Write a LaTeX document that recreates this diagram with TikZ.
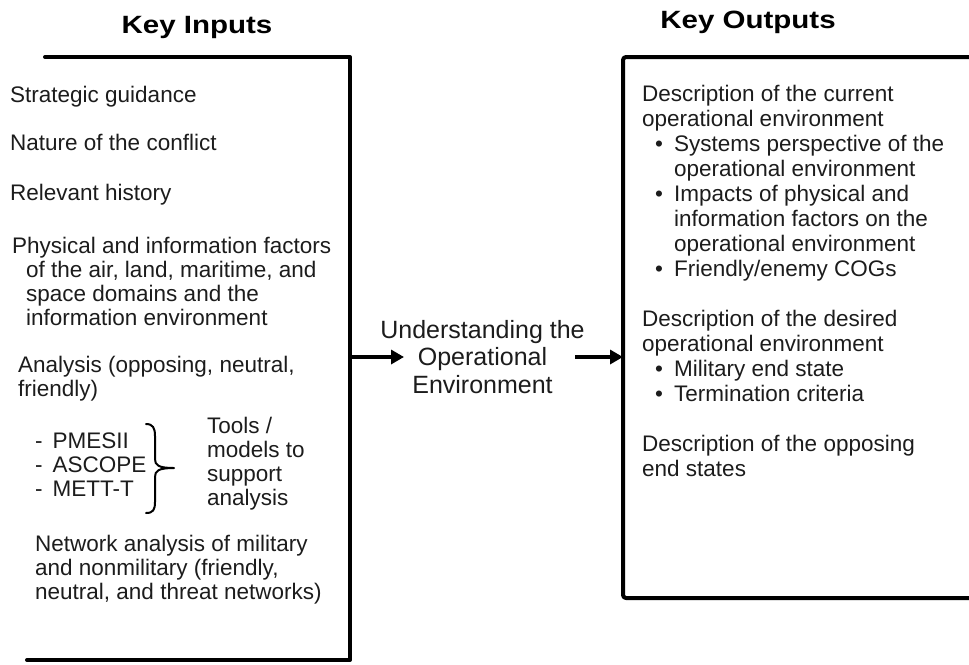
\documentclass[tikz,border=0pt]{standalone}
\usepackage{fontspec}
\setmainfont{Liberation Sans}
\usetikzlibrary{arrows.meta}
\newcommand{\mlines}[1]{\begin{tabular}[t]{@{}l@{}}#1\end{tabular}}
\definecolor{ink}{HTML}{1C1C1C}
\begin{document}
\begin{tikzpicture}[x=1pt,y=-1pt,
  boxline/.style={line width=4pt, line join=round, line cap=round},
  bodytxt/.style={font=\fontsize{22.5}{24}\selectfont, text=ink, inner sep=0pt, anchor=base west},
  rtxt/.style={font=\fontsize{22.5}{25}\selectfont, text=ink, inner sep=0pt, anchor=base west},
  titletxt/.style={font=\bfseries\fontsize{25}{28}\selectfont, inner sep=0pt, anchor=base},
  midtxt/.style={font=\fontsize{25}{27.5}\selectfont, text=ink, inner sep=0pt, anchor=base},
  arr/.style={line width=3.5pt, -{Triangle[length=13pt,width=14pt]}},
  bracestyle/.style={line width=2pt, line cap=round, line join=round}]
\useasboundingbox (0,0) rectangle (969,664);

% titles
\node[titletxt] (tin) at (197,33) {\scalebox{1.18}[1]{Key Inputs}};
\node[titletxt] (tout) at (748,28) {\scalebox{1.18}[1]{Key Outputs}};

% left box (open on the left)
\draw[boxline] (27,660) -- (350,660) -- (350,57) -- (45,57);
% right box (open on the right)
\draw[boxline, rounded corners=3pt] (975,57) -- (623,57) -- (623,598) -- (975,598);

% left column
\node[bodytxt] (l1) at (10,102) {Strategic guidance};
\node[bodytxt] (l2) at (10,150) {Nature of the conflict};
\node[bodytxt] (l3) at (10,200) {Relevant history};
\node[bodytxt] (l4) at (12,253) {\mlines{Physical and information factors\\
  \hspace*{14pt}of the air, land, maritime, and\\
  \hspace*{14pt}space domains and the\\
  \hspace*{14pt}information environment}};
\node[bodytxt] (l5) at (18,372) {\mlines{Analysis (opposing, neutral,\\friendly)}};
\node[bodytxt] (l6) at (35,448) {\mlines{-\hspace{10pt}PMESII\\-\hspace{10pt}ASCOPE\\-\hspace{10pt}METT-T}};
\node[bodytxt] (l7) at (207,433) {\mlines{Tools /\\models to\\support\\analysis}};
\node[bodytxt] (l8) at (35,551) {\mlines{Network analysis of military\\and nonmilitary (friendly,\\neutral, and threat networks)}};

% brace
\draw[bracestyle] (146,424) .. controls (153,424) and (155,428) .. (155,436)
  -- (155,459) .. controls (155,465) and (158,468) .. (174,468)
  .. controls (158,468) and (155,471) .. (155,477)
  -- (155,502) .. controls (155,510) and (153,513) .. (146,513);

% middle
\node[midtxt] (mid) at (482.5,338) {\begin{tabular}[t]{@{}c@{}}Understanding the\\Operational\\Environment\end{tabular}};
\coordinate (a1s) at (352,357);
\coordinate (a1e) at (404,357);
\coordinate (a2s) at (575,357);
\coordinate (a2e) at (623,357);
\draw[arr] (a1s) -- (a1e);
\draw[arr] (a2s) -- (a2e);

% right column
\node[rtxt] (r1) at (642,101.7) {\begin{tabular}[t]{@{\hspace{13pt}}l@{\hspace{11pt}}l@{}}
\multicolumn{2}{@{}l@{}}{Description of the current}\\
\multicolumn{2}{@{}l@{}}{operational environment}\\
\textbullet & Systems perspective of the\\
 & operational environment\\
\textbullet & Impacts of physical and\\
 & information factors on the\\
 & operational environment\\
\textbullet & Friendly/enemy COGs\\
\multicolumn{2}{@{}l@{}}{}\\
\multicolumn{2}{@{}l@{}}{Description of the desired}\\
\multicolumn{2}{@{}l@{}}{operational environment}\\
\textbullet & Military end state\\
\textbullet & Termination criteria\\
\multicolumn{2}{@{}l@{}}{}\\
\multicolumn{2}{@{}l@{}}{Description of the opposing}\\
\multicolumn{2}{@{}l@{}}{end states}
\end{tabular}};
\end{tikzpicture}
\end{document}
